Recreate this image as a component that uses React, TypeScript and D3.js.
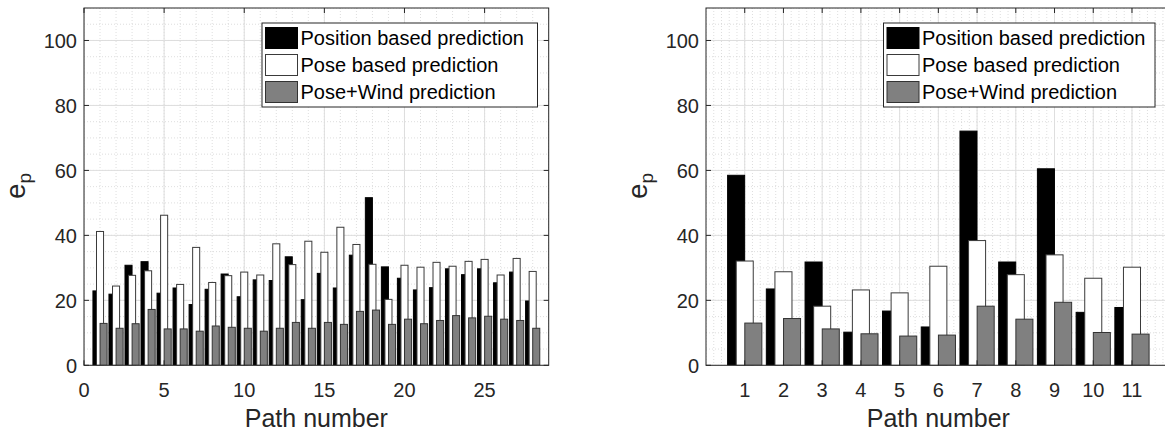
import React, { useEffect } from "react";
import * as d3 from "d3";

const leftPaths = d3.range(1, 29);
const leftPosition = [22.9, 21.9, 30.8, 31.9, 22.2, 23.8, 18.7, 23.4, 28.1, 21.1, 26.3, 26.1, 33.4, 20.2, 28.3, 23.8, 33.9, 51.6, 30.3, 26.8, 23.2, 23.9, 29.7, 27.9, 29.7, 25.4, 28.7, 19.8];
const leftPose = [41.2, 24.4, 27.7, 29.1, 46.2, 24.9, 36.3, 25.5, 27.6, 28.7, 27.8, 37.4, 31.0, 38.2, 34.8, 42.5, 37.2, 31.1, 20.3, 30.8, 30.2, 31.7, 30.5, 32.0, 32.6, 27.8, 32.9, 28.9];
const leftWind = [12.9, 11.4, 12.8, 17.2, 11.2, 11.2, 10.5, 12.1, 11.7, 11.4, 10.5, 11.4, 13.2, 11.4, 13.2, 12.6, 16.6, 17.0, 12.6, 14.2, 12.8, 13.8, 15.3, 14.6, 15.1, 14.2, 13.8, 11.4];
const leftXTicks = [0, 5, 10, 15, 20, 25];

const rightPaths = d3.range(1, 12);
const rightPosition = [58.5, 23.5, 31.8, 10.2, 16.7, 11.8, 72.1, 31.8, 60.5, 16.3, 17.8];
const rightPose = [32.1, 28.8, 18.2, 23.2, 22.3, 30.5, 38.4, 27.9, 34.0, 26.8, 30.2];
const rightWind = [13.0, 14.4, 11.2, 9.7, 9.0, 9.3, 18.2, 14.2, 19.4, 10.1, 9.6];
const rightXTicks = d3.range(1, 12);

const yTicks = [0, 20, 40, 60, 80, 100];
const seriesNames = ["Position based prediction", "Pose based prediction", "Pose+Wind prediction"];
const seriesFill = ["#000000", "#ffffff", "#808080"];
const seriesStroke = ["#000000", "#3a3a3a", "#333333"];

const FONT = "'Liberation Sans', Arial, Helvetica, sans-serif";
const AX = "#262626";

type ChartProps = {
  left: number;
  xMax: number;
  xMinorStep: number;
  paths: number[];
  series: number[][];
  xTicks: number[];
  legendX: number;
  legendW: number;
};

function Chart({ left, xMax, xMinorStep, paths, series, xTicks, legendX, legendW }: ChartProps) {
  const top = 8;
  const bottom = 365.3;
  const width = 464.7;
  const right = left + width;
  const x = d3.scaleLinear().domain([0, xMax]).range([left, right]);
  const y = d3.scaleLinear().domain([0, 110]).range([bottom, top]);
  const offset = 0.222;
  const bw = 0.44;
  const xMinor = d3.range(0, xMax + 1e-9, xMinorStep).map((v) => +v.toFixed(4));
  const yMinor = d3.range(0, 110.001, 5);
  const clipId = `clip${left}`;
  const tickLen = 5;
  return (
    <g>
      <defs>
        <clipPath id={clipId}>
          <rect x={left} y={top} width={width} height={bottom - top} />
        </clipPath>
      </defs>
      <rect x={left} y={top} width={width} height={bottom - top} fill="#fff" />
      <g clipPath={`url(#${clipId})`}>
        {xMinor.map((v) => (
          <line key={`xm${v}`} x1={x(v)} x2={x(v)} y1={top} y2={bottom} stroke="#c8c8c8" strokeWidth={0.6} strokeDasharray="1 2" />
        ))}
        {yMinor.map((v) => (
          <line key={`ym${v}`} x1={left} x2={right} y1={y(v)} y2={y(v)} stroke="#c8c8c8" strokeWidth={0.6} strokeDasharray="1 2" />
        ))}
        {xTicks.map((v) => (
          <line key={`xg${v}`} x1={x(v)} x2={x(v)} y1={top} y2={bottom} stroke="#dedede" strokeWidth={1} />
        ))}
        {yTicks.map((v) => (
          <line key={`yg${v}`} x1={left} x2={right} y1={y(v)} y2={y(v)} stroke="#dedede" strokeWidth={1} />
        ))}
        {series.map((vals, si) =>
          vals.map((v, i) => {
            const c = paths[i] + (si - 1) * offset;
            const x0 = x(c - bw / 2);
            const x1 = x(c + bw / 2);
            return (
              <rect
                key={`b${si}-${i}`}
                x={x0}
                y={y(v)}
                width={x1 - x0}
                height={y(0) - y(v)}
                fill={seriesFill[si]}
                stroke={seriesStroke[si]}
                strokeWidth={1}
              />
            );
          })
        )}
      </g>
      <rect x={left} y={top} width={width} height={bottom - top} fill="none" stroke={AX} strokeWidth={1} />
      {xTicks.map((v) => (
        <g key={`xt${v}`}>
          <line x1={x(v)} x2={x(v)} y1={bottom} y2={bottom - tickLen} stroke={AX} />
          <line x1={x(v)} x2={x(v)} y1={top} y2={top + tickLen} stroke={AX} />
          <text x={x(v)} y={397} textAnchor="middle" fontSize={20} fill={AX} fontFamily={FONT}>
            {v}
          </text>
        </g>
      ))}
      {yTicks.map((v) => (
        <g key={`yt${v}`}>
          <line x1={left} x2={left + tickLen} y1={y(v)} y2={y(v)} stroke={AX} />
          <line x1={right} x2={right - tickLen} y1={y(v)} y2={y(v)} stroke={AX} />
          <text x={left - 7} y={y(v) + 7.2} textAnchor="end" fontSize={20} fill={AX} fontFamily={FONT}>
            {v}
          </text>
        </g>
      ))}
      <text x={(left + right) / 2} y={427} textAnchor="middle" fontSize={25} fill={AX} fontFamily={FONT}>
        Path number
      </text>
      <text
        transform={`translate(${left - 59},186) rotate(-90)`}
        textAnchor="middle"
        fontSize={28}
        fill={AX}
        fontFamily={FONT}
      >
        e<tspan fontSize={19} dy={6}>p</tspan>
      </text>
      <g>
        <rect x={legendX} y={23} width={legendW} height={84} fill="#fff" stroke={AX} strokeWidth={1} />
        {seriesNames.map((name, i) => {
          const ry = 27.5 + i * 27;
          return (
            <g key={name}>
              <rect x={legendX + 3.5} y={ry} width={32} height={21} fill={seriesFill[i]} stroke={seriesStroke[i]} strokeWidth={1} />
              <text x={legendX + 38.5} y={ry + 17.5} fontSize={20} fill="#000" fontFamily={FONT}>
                {name}
              </text>
            </g>
          );
        })}
      </g>
    </g>
  );
}

export default function App() {
  useEffect(() => {
    document.body.style.margin = "0";
  }, []);
  return (
    <svg width={1165} height={434} style={{ display: "block", background: "#fff" }}>
      <Chart
        left={84}
        xMax={29}
        xMinorStep={1}
        paths={leftPaths}
        series={[leftPosition, leftPose, leftWind]}
        xTicks={leftXTicks}
        legendX={262}
        legendW={275.5}
      />
      <Chart
        left={706}
        xMax={12}
        xMinorStep={0.2}
        paths={rightPaths}
        series={[rightPosition, rightPose, rightWind]}
        xTicks={rightXTicks}
        legendX={883.5}
        legendW={271.5}
      />
    </svg>
  );
}
